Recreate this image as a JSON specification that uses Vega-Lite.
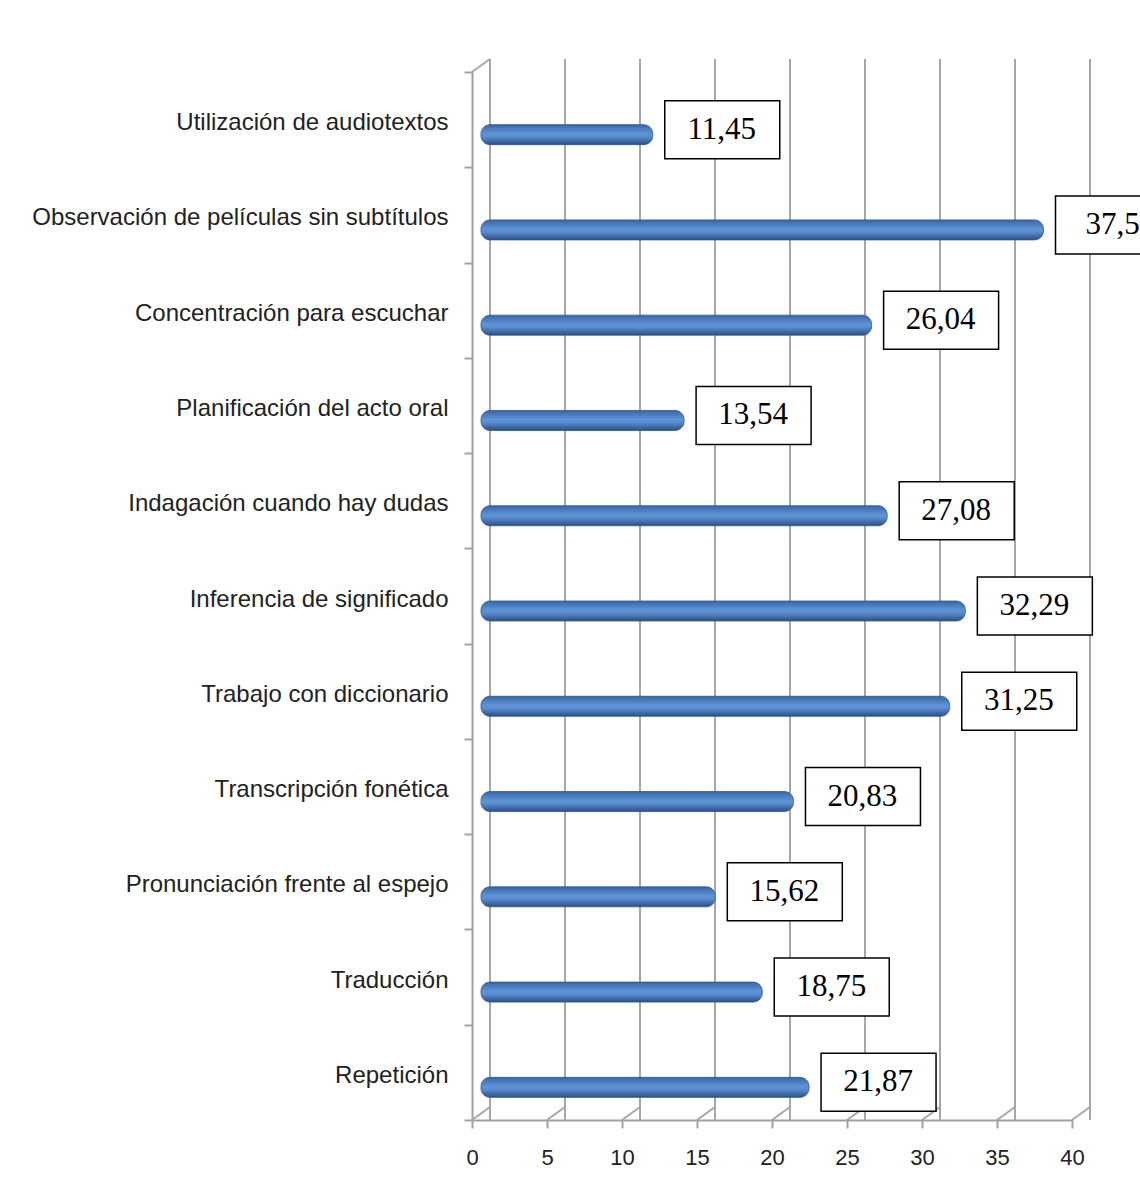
{
  "$schema": "https://vega.github.io/schema/vega-lite/v6.json",
  "autosize": {"type": "none"},
  "padding": {"left": 472, "top": 72, "right": 68, "bottom": 84},
  "width": 600,
  "height": 1048,
  "background": "white",
  "config": {"view": {"stroke": null}},
  "datasets": {
    "main": [
      {"categoria": "Utilización de audiotextos", "valor": 11.45, "etiqueta": "11,45"},
      {"categoria": "Observación de películas sin subtítulos", "valor": 37.5, "etiqueta": "37,5"},
      {"categoria": "Concentración para escuchar", "valor": 26.04, "etiqueta": "26,04"},
      {"categoria": "Planificación del acto oral", "valor": 13.54, "etiqueta": "13,54"},
      {"categoria": "Indagación cuando hay dudas", "valor": 27.08, "etiqueta": "27,08"},
      {"categoria": "Inferencia de significado", "valor": 32.29, "etiqueta": "32,29"},
      {"categoria": "Trabajo con diccionario", "valor": 31.25, "etiqueta": "31,25"},
      {"categoria": "Transcripción fonética", "valor": 20.83, "etiqueta": "20,83"},
      {"categoria": "Pronunciación frente al espejo", "valor": 15.62, "etiqueta": "15,62"},
      {"categoria": "Traducción", "valor": 18.75, "etiqueta": "18,75"},
      {"categoria": "Repetición", "valor": 21.87, "etiqueta": "21,87"}
    ],
    "ticks": [{"t": 0}, {"t": 5}, {"t": 10}, {"t": 15}, {"t": 20}, {"t": 25}, {"t": 30}, {"t": 35}, {"t": 40}]
  },
  "layer": [
    {
      "data": {"name": "ticks"},
      "mark": {"type": "rule", "color": "#a6a6a6", "strokeWidth": 2, "xOffset": 18, "yOffset": -13, "y2Offset": -13},
      "encoding": {
        "x": {"field": "t", "type": "quantitative", "scale": {"domain": [0, 40], "nice": false},
          "axis": {"values": [0, 5, 10, 15, 20, 25, 30, 35, 40], "title": null, "grid": false, "labelFlush": false,
            "domainColor": "#a0a0a0", "domainWidth": 2, "tickColor": "#a0a0a0", "tickWidth": 2, "tickSize": 8,
            "labelFont": "Liberation Sans", "labelFontSize": 22, "labelColor": "#222222", "labelPadding": 19}}
      }
    },
    {
      "data": {"name": "ticks"},
      "mark": {"type": "rule", "color": "#a6a6a6", "strokeWidth": 2, "x2Offset": 18, "y2Offset": -13},
      "encoding": {
        "x": {"field": "t", "type": "quantitative"},
        "x2": {"field": "t"},
        "y": {"value": {"expr": "height"}},
        "y2": {"value": {"expr": "height"}}
      }
    },
    {
      "data": {"values": [{"t": 0}]},
      "mark": {"type": "rule", "color": "#a6a6a6", "strokeWidth": 2, "x2Offset": 18, "y2Offset": -13},
      "encoding": {
        "x": {"field": "t", "type": "quantitative"},
        "x2": {"field": "t"},
        "y": {"value": 0},
        "y2": {"value": 0}
      }
    },
    {
      "data": {"name": "main"},
      "mark": {"type": "bar", "height": 20, "yOffset": 15, "xOffset": 9, "x2Offset": 9, "cornerRadius": 9,
        "stroke": "#2f5590", "strokeWidth": 0.8,
        "color": {"gradient": "linear", "x1": 0, "y1": 0, "x2": 0, "y2": 1,
          "stops": [{"offset": 0, "color": "#3a66a3"}, {"offset": 0.45, "color": "#5e93d6"}, {"offset": 0.6, "color": "#5a8dd0"}, {"offset": 1, "color": "#2b4f86"}]}},
      "encoding": {
        "y": {"field": "categoria", "type": "nominal", "sort": null,
          "scale": {"paddingInner": 0, "paddingOuter": 0},
          "axis": {"title": null, "grid": false, "tickBand": "extent",
            "domainColor": "#a0a0a0", "domainWidth": 2, "tickColor": "#a0a0a0", "tickWidth": 2, "tickSize": 8,
            "labelFont": "Liberation Sans", "labelFontSize": 24, "labelColor": "#222222", "labelPadding": 16,
            "labelOffset": 3, "labelLimit": 500}},
        "x": {"field": "valor", "type": "quantitative", "stack": null},
        "x2": {"datum": 0}
      }
    },
    {
      "data": {"name": "main"},
      "mark": {"type": "bar", "height": 58, "yOffset": 10, "xOffset": 21, "x2Offset": 136,
        "fill": "white", "stroke": "black", "strokeWidth": 1.5},
      "encoding": {
        "y": {"field": "categoria", "type": "nominal", "sort": null},
        "x": {"field": "valor", "type": "quantitative", "stack": null},
        "x2": {"field": "valor"}
      }
    },
    {
      "data": {"name": "main"},
      "mark": {"type": "text", "font": "Liberation Serif", "fontSize": 31, "color": "black",
        "xOffset": 78, "yOffset": 10, "align": "center", "baseline": "middle"},
      "encoding": {
        "y": {"field": "categoria", "type": "nominal", "sort": null},
        "x": {"field": "valor", "type": "quantitative"},
        "text": {"field": "etiqueta"}
      }
    }
  ]
}
